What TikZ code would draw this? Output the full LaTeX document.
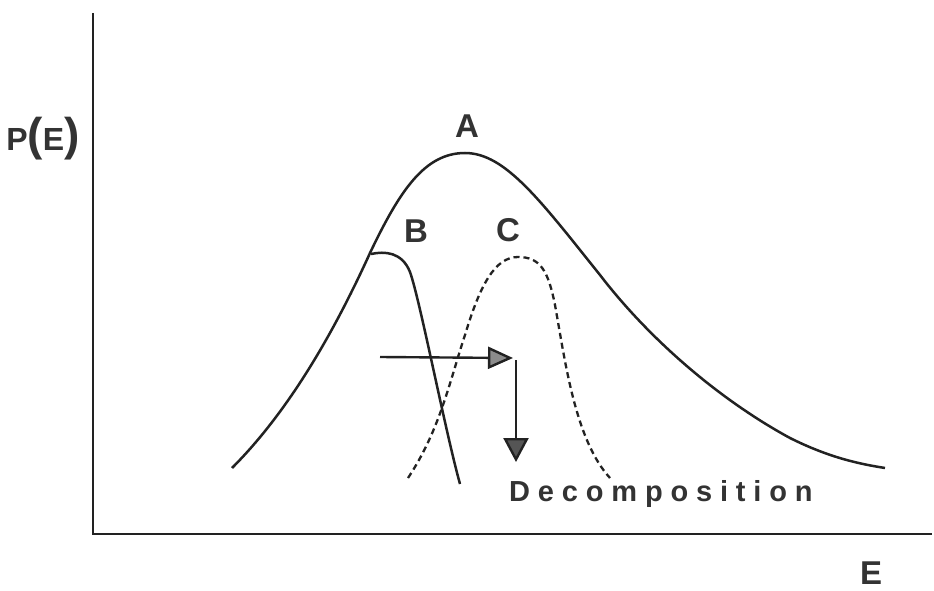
\documentclass[tikz,border=0pt]{standalone}
\usepackage{fontspec}
\setmainfont{Liberation Sans}
\newfontfamily\spacedbold[LetterSpace=27]{Liberation Sans Bold}
\usetikzlibrary{arrows.meta}

\definecolor{inkColour}{HTML}{222222}
\definecolor{textColour}{HTML}{333333}
\definecolor{headColourH}{HTML}{8C8C8C}
\definecolor{headColourV}{HTML}{555555}

\tikzset{
    curve/.style={inkColour, line width=2.5pt},
    label/.style={textColour, font=\fontsize{33}{36}\selectfont\bfseries, inner sep=0pt},
    axislabel/.style={textColour, font=\fontsize{32}{34}\selectfont\bfseries, inner sep=0pt}
}

\begin{document}
\begin{tikzpicture}[x=1pt, y=-1pt]
    \useasboundingbox (0,0) rectangle (934,591);

    % Draw axes
    \draw[inkColour, line width=2.6pt] (93,13) -- (93,534) -- (932,534);
    \node[axislabel] (pE) at (43,139) {P{\fontsize{46}{48}\selectfont(}E{\fontsize{46}{48}\selectfont)}};
    \node[label] (eLabel) at (871,573) {E};

    % Curve A: full distribution
    \draw[curve] (232,468) .. controls (290,410) and (335,330) .. (370,253)
        .. controls (400,190) and (425,153) .. (465,153)
        .. controls (505,153) and (540,200) .. (600,275)
        .. controls (650,340) and (720,400) .. (790,438)
        .. controls (830,458) and (860,464) .. (885,468);
    \node[label] (aLabel) at (467,126) {A};

    % Curve B: after removal of the high energy part
    \draw[curve] (371,254) .. controls (385,251) and (402,252) .. (410,272)
        .. controls (420,300) and (445,430) .. (460,484);
    \node[label] (bLabel) at (416,231) {B};

    % Curve C: dashed, shifted to higher energy
    \draw[curve, line width=2.3pt, dash pattern=on 6pt off 4pt]
        (408,478) .. controls (440,430) and (450,380) .. (465,335)
        .. controls (480,285) and (495,257) .. (518,257)
        .. controls (540,257) and (548,270) .. (555,305)
        .. controls (565,360) and (575,440) .. (610,478);
    \node[label] (cLabel) at (508,230) {C};

    % Arrows: shift, then decomposition
    \coordinate (shiftStart) at (380,357);
    \coordinate (shiftEnd) at (513,358);
    \coordinate (decayStart) at (516,360);
    \coordinate (decayEnd) at (516,462);
    \draw[inkColour, line width=2.4pt,
        -{Triangle[length=25pt, width=22pt, fill=headColourH]}] (shiftStart) -- (shiftEnd);
    \draw[inkColour, line width=2.4pt,
        -{Triangle[length=24pt, width=25pt, fill=headColourV]}] (decayStart) -- (decayEnd);

    \node[textColour, inner sep=0pt, anchor=west] (decomp) at (509,494)
        {\fontsize{29}{32}\spacedbold Decomposition};

\end{tikzpicture}
\end{document}
